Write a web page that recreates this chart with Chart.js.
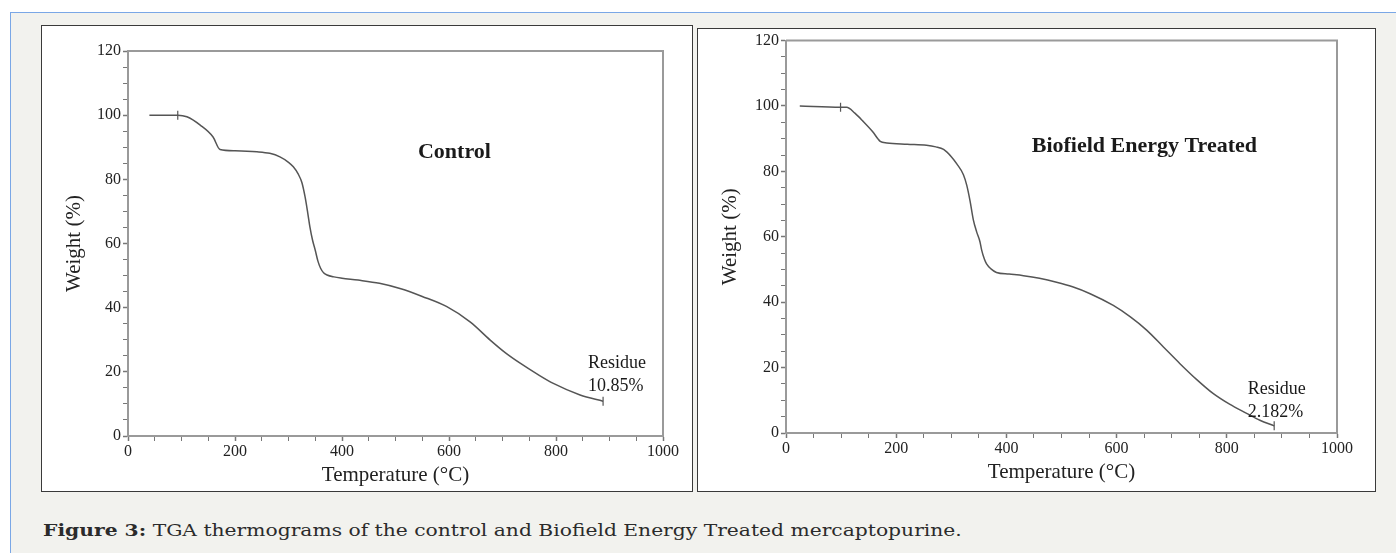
<!DOCTYPE html>
<html lang="en">
<head>
  <meta charset="UTF-8" />
  <title>TGA thermograms</title>
  <script src="https://cdn.jsdelivr.net/npm/chart.js"></script>
  <style>
    html, body {
      margin: 0;
      padding: 0;
      background: #ffffff;
      width: 1396px;
      height: 553px;
      overflow: hidden;
    }
    .frame {
      position: absolute;
      left: 10px;
      top: 12px;
      right: 0;
      bottom: 0;
      background: #f2f2ee;
      border-top: 1px solid #7aa7e6;
      border-left: 1px solid #7aa7e6;
    }
    .panel {
      position: absolute;
      background: #ffffff;
      border: 1px solid #3a3a3a;
    }
    #leftBox { left: 41px; top: 25px; width: 650px; height: 465px; }
    #rightBox { left: 697px; top: 28px; width: 677px; height: 462px; }
    .panel canvas { display: block; }
    .caption {
      position: absolute;
      left: 43px;
      top: 521px;
      font-family: "DejaVu Serif", serif;
      font-size: 16.5px;
      color: #2b2b2b;
      white-space: nowrap;
      transform: scaleX(1.228);
      transform-origin: left center;
    }
  </style>
</head>
<body>
  <div class="frame"></div>
  <div class="panel" id="leftBox"><canvas id="controlChart"></canvas></div>
  <div class="panel" id="rightBox"><canvas id="treatedChart"></canvas></div>
  <div class="caption"><b>Figure 3:</b> TGA thermograms of the control and Biofield Energy Treated mercaptopurine.</div>

<script>
  // Donnees (temperature en °C, masse en %)
  const controlTemp = [40, 93, 110, 135, 159, 172, 200, 241, 265, 284, 300, 309, 318, 325, 331, 336, 340, 345, 350, 355, 360, 366, 372, 385, 400, 430, 470, 510, 550, 596, 640, 677, 705, 733, 765, 795, 845, 888];
  const controlWeight = [100, 100, 99.5, 96.9, 93.2, 89.3, 88.9, 88.6, 88.1, 87.0, 85.3, 83.9, 81.7, 79.0, 74.5, 69.5, 65.2, 61.0, 57.9, 54.5, 52.3, 50.8, 50.2, 49.6, 49.2, 48.6, 47.6, 45.9, 43.5, 40.3, 35.5, 29.9, 26.0, 22.7, 19.3, 16.4, 12.8, 10.85];

  const treatedTemp = [25, 99, 110, 125, 140, 157, 171, 183, 220, 255, 272, 286, 300, 310, 322, 328, 334, 340, 346, 352, 355, 360, 364, 372, 382, 405, 431, 460, 491, 520, 552, 594, 625, 655, 685, 715, 745, 775, 805, 836, 860, 886];
  const treatedWeight = [100, 99.6, 99.6, 97.8, 95.3, 92.2, 89.2, 88.7, 88.3, 88.0, 87.5, 86.7, 84.5, 82.3, 79.0, 75.8, 71.0, 65.2, 61.5, 58.5, 56.0, 53.2, 51.7, 50.2, 49.1, 48.6, 48.1, 47.3, 46.1, 44.7, 42.6, 39.0, 35.5, 31.4, 26.3, 21.2, 16.4, 12.1, 8.8, 6.0, 3.9, 2.182];

  // reperes (petits traits) : debut de perte de masse et residu
  const controlMarkTemp = [93, 888];
  const controlMarkWeight = [100, 10.85];
  const treatedMarkTemp = [99, 886];
  const treatedMarkWeight = [99.6, 2.182];

  const xTickLabels = [0, 200, 400, 600, 800, 1000];
  const yTickLabels = [0, 20, 40, 60, 80, 100, 120];

  const xTitle = 'Temperature (°C)';
  const yTitle = 'Weight (%)';

  // textes dans le graphique : [texte, temperature, masse, gras]
  const controlNotes = [
    ['Control', 542, 88.5, true],
    ['Residue', 860, 22.8, false],
    ['10.85%', 860, 15.5, false]
  ];
  const treatedNotes = [
    ['Biofield Energy Treated', 446, 87.7, true],
    ['Residue', 838, 13.4, false],
    ['2.182%', 838, 6.4, false]
  ];

  function toPoints(xs, ys) {
    return xs.map((x, i) => ({ x: x, y: ys[i] }));
  }

  // cadre haut/droite + annotations
  const framePlugin = {
    id: 'frameAndNotes',
    afterDraw(chart, args, opts) {
      const ctx = chart.ctx;
      const a = chart.chartArea;
      ctx.save();
      ctx.strokeStyle = '#9a9a9a';
      ctx.lineWidth = 2;
      ctx.beginPath();
      ctx.moveTo(a.left, a.top);
      ctx.lineTo(a.right, a.top);
      ctx.lineTo(a.right, a.bottom);
      ctx.stroke();

      const xs = chart.scales.x, ys = chart.scales.y;
      ctx.fillStyle = '#1a1a1a';
      ctx.textBaseline = 'middle';
      ctx.textAlign = 'left';
      for (const [txt, t, w, bold] of opts.notes) {
        ctx.font = bold ? 'bold 22px "Liberation Serif"' : '18px "Liberation Serif"';
        ctx.fillText(txt, xs.getPixelForValue(t), ys.getPixelForValue(w));
      }
      ctx.restore();
    }
  };

  function makeChart(canvasId, w, h, lay, temps, weights, markT, markW, notes) {
    const canvas = document.getElementById(canvasId);
    canvas.width = w;
    canvas.height = h;
    canvas.style.width = w + 'px';
    canvas.style.height = h + 'px';

    const tickFont = { family: 'Liberation Serif', size: 16 };
    const titleFont = { family: 'Liberation Serif', size: 21 };

    return new Chart(canvas.getContext('2d'), {
      type: 'scatter',
      data: {
        datasets: [{
          data: toPoints(temps, weights),
          showLine: true,
          borderColor: '#555555',
          borderWidth: 1.5,
          pointRadius: 0,
          cubicInterpolationMode: 'monotone',
          fill: false
        }, {
          data: toPoints(markT, markW),
          showLine: false,
          pointStyle: 'line',
          rotation: 90,
          pointRadius: 4.5,
          borderColor: '#555555',
          borderWidth: 1.2
        }]
      },
      plugins: [framePlugin],
      options: {
        responsive: false,
        animation: false,
        events: [],
        layout: { padding: { left: 0, top: lay.top, right: lay.right, bottom: 0 } },
        plugins: {
          legend: { display: false },
          tooltip: { enabled: false },
          frameAndNotes: { notes: notes }
        },
        scales: {
          x: {
            type: 'linear',
            min: 0,
            max: 1000,
            afterFit: s => { s.height = lay.xh; },
            border: { color: '#9a9a9a', width: 2 },
            grid: {
              drawOnChartArea: false,
              drawTicks: true,
              tickLength: 5,
              tickColor: '#777777',
              tickWidth: c => (xTickLabels.includes(c.tick.value) ? 1.5 : 1)
            },
            ticks: {
              stepSize: 50,
              autoSkip: false,
              maxRotation: 0,
              padding: 1,
              color: '#222222',
              font: tickFont,
              callback: v => (xTickLabels.includes(v) ? String(v) : '')
            },
            title: {
              display: true,
              text: xTitle,
              color: '#222222',
              font: titleFont,
              padding: { top: 0, bottom: lay.xtp }
            }
          },
          y: {
            type: 'linear',
            min: 0,
            max: 120,
            afterFit: s => { s.width = lay.yw; },
            border: { color: '#9a9a9a', width: 2 },
            grid: {
              drawOnChartArea: false,
              drawTicks: true,
              tickLength: 5,
              tickColor: '#777777',
              tickWidth: c => (yTickLabels.includes(c.tick.value) ? 1.5 : 1)
            },
            ticks: {
              stepSize: 5,
              autoSkip: false,
              padding: 2,
              color: '#222222',
              font: tickFont,
              callback: v => (yTickLabels.includes(v) ? String(v) : '')
            },
            title: {
              display: true,
              text: yTitle,
              color: '#222222',
              font: titleFont,
              padding: { top: lay.ytp, bottom: 0 }
            }
          }
        }
      }
    });
  }

  makeChart('controlChart', 650, 465,
    { top: 25, right: 29, xh: 55, yw: 86, xtp: 3, ytp: 20 },
    controlTemp, controlWeight, controlMarkTemp, controlMarkWeight, controlNotes);

  makeChart('treatedChart', 677, 462,
    { top: 10, right: 38, xh: 58, yw: 88, xtp: 6, ytp: 20 },
    treatedTemp, treatedWeight, treatedMarkTemp, treatedMarkWeight, treatedNotes);
</script>
</body>
</html>
